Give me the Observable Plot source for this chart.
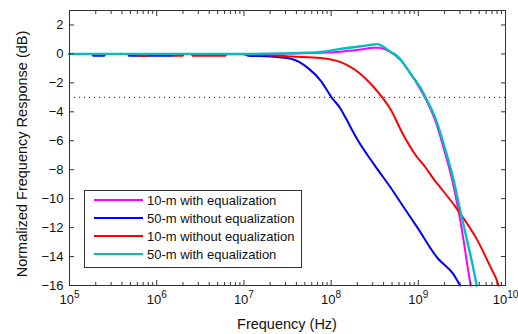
<!DOCTYPE html>
<html><head><meta charset="utf-8">
<script src="https://cdn.jsdelivr.net/npm/d3@7"></script>
<script src="https://cdn.jsdelivr.net/npm/@observablehq/plot@0.6"></script>
<style>
body{margin:0;background:#fff;}
#chart{position:relative;width:518px;height:334px;}
</style>
</head><body><div id="chart"></div>
<script>
// ---- data (frequency as log10 exponent, response in dB) ----
const seriesNames = ["10-m with equalization","50-m without equalization","10-m without equalization","50-m with equalization"];
const seriesColors = ["#ff00ff","#0000ff","#ff0000","#00bfbf"];

const magentaLogF = [5.0,7.0,7.5,7.88,8.11,8.34,8.49,8.55,8.65,8.8,8.91,9.02,9.10,9.2,9.29,9.39,9.46,9.52,9.56,9.6];
const magentaDb   = [0,0,0.03,0.08,0.15,0.3,0.42,0.42,0.23,-0.45,-1.35,-2.4,-3.3,-4.7,-6.5,-8.75,-10.8,-12.9,-14.5,-16];

const blueLogF = [5.0,5.26,5.27,5.40,5.41,5.67,5.68,6.19,6.2,7.0,7.05,7.3,7.55,7.74,7.88,8.005,8.11,8.165,8.31,8.5,8.69,8.80,8.99,9.22,9.40,9.47,9.48];
const blueDb   = [0,0,-0.12,-0.12,0,0,-0.12,-0.12,0,0,-0.12,-0.18,-0.35,-1.0,-1.84,-3.0,-3.8,-4.4,-6.0,-7.7,-9.3,-10.3,-12.0,-14.1,-15.2,-15.9,-16];

const redLogF = [5.0,5.78,5.79,5.9,5.91,6.18,6.19,6.30,6.31,6.40,6.41,6.79,6.8,7.2,7.55,7.88,8.11,8.34,8.49,8.6,8.68,8.82,8.97,9.09,9.17,9.25,9.43,9.68,9.83,9.91,9.92];
const redDb   = [0,0,-0.12,-0.12,0,0,-0.12,-0.12,0,0,-0.12,-0.12,0,-0.05,-0.18,-0.28,-0.57,-1.4,-2.3,-3.1,-3.8,-5.5,-7.0,-7.9,-8.6,-9.2,-10.6,-12.9,-14.75,-15.8,-16];

const cyanLogF = [5.0,7.0,7.5,7.88,8.11,8.34,8.49,8.53,8.6,8.68,8.76,8.91,9.02,9.10,9.2,9.3,9.4,9.48,9.56,9.62,9.67];
const cyanDb   = [0,0,0.04,0.14,0.35,0.53,0.65,0.68,0.5,0.15,-0.15,-1.35,-2.3,-3.2,-4.5,-6.4,-8.6,-10.8,-12.9,-14.5,-16];

const thresholdDb = -3;
const thresholdSpan = [1.14e5, 1e10];

const xMajorExp = [5,6,7,8,9,10];
const yTicks = [-16,-14,-12,-10,-8,-6,-4,-2,0,2];
const xLabel = "Frequency (Hz)";
const yLabel = "Normalized Frequency Response (dB)";

// ---- build tables ----
const logFs = [magentaLogF, blueLogF, redLogF, cyanLogF];
const dbs = [magentaDb, blueDb, redDb, cyanDb];
const widths = [2, 2, 2, 2.4];
const rows = seriesNames.map((name, k) => logFs[k].map((e, i) => ({name, f: Math.pow(10, e), db: dbs[k][i]})));
const majorX = xMajorExp.map(e => Math.pow(10, e));
const minorX = xMajorExp.slice(0, -1).flatMap(e => [2,3,4,5,6,7,8,9].map(m => m * Math.pow(10, e)));

const W = 518, H = 334;
const axisColor = "#333";
const font = "'Liberation Sans', Arial, Helvetica, sans-serif";

const plot = Plot.plot({
  width: W, height: H,
  marginLeft: 69, marginRight: 13, marginTop: 10, marginBottom: 49,
  style: {fontFamily: font, background: "#fff", color: "#111", overflow: "visible"},
  x: {type: "log", domain: [1e5, 1e10], label: null},
  y: {domain: [-16, 3], label: null},
  marks: [
    Plot.ruleY([thresholdDb], {x1: thresholdSpan[0], x2: thresholdSpan[1], stroke: "#222", strokeWidth: 1, strokeDasharray: "1.2,3.8"}),
    ...rows.map((r, k) => Plot.line(r, {x: "f", y: "db", stroke: seriesColors[k], strokeWidth: widths[k], strokeLinejoin: "round", curve: "monotone-x"})),
    Plot.axisX({ticks: majorX, tickSize: -5, tickPadding: 13.8, fontSize: 13, stroke: axisColor, label: null,
      tickFormat: d => "10^" + Math.round(Math.log10(d))}),
    Plot.axisX({ticks: minorX, tickSize: -3, stroke: axisColor, label: null, tickFormat: () => ""}),
    Plot.axisX({anchor: "top", ticks: majorX, tickSize: -5, stroke: axisColor, label: null, tickFormat: () => ""}),
    Plot.axisX({anchor: "top", ticks: minorX, tickSize: -3, stroke: axisColor, label: null, tickFormat: () => ""}),
    Plot.axisY({ticks: yTicks, tickSize: -5, tickPadding: 11, fontSize: 13, stroke: axisColor, label: null}),
    Plot.axisY({anchor: "right", ticks: yTicks, tickSize: -5, stroke: axisColor, label: null, tickFormat: () => ""}),
    Plot.frame({stroke: axisColor, strokeWidth: 1})
  ]
});

document.getElementById("chart").appendChild(plot);

const svg = d3.select(plot);
// superscript exponents on x tick labels
svg.selectAll("text").each(function() {
  const t = this.textContent;
  const m = /^10\^(\d+)$/.exec(t);
  if (m) {
    const sel = d3.select(this);
    sel.text("");
    sel.append("tspan").text("10");
    sel.append("tspan").attr("dy", "-0.6em").attr("font-size", "10px").text(m[1]);
  }
});

// axis titles
svg.append("text")
  .attr("x", 287).attr("y", 329)
  .attr("text-anchor", "middle")
  .attr("font-family", font).attr("font-size", 14.5).attr("fill", "#111")
  .text(xLabel);
svg.append("text")
  .attr("transform", "translate(27,154) rotate(-90)")
  .attr("text-anchor", "middle")
  .attr("font-family", font).attr("font-size", 14.5).attr("fill", "#111")
  .text(yLabel);

// legend
const lg = svg.append("g").attr("font-family", font).attr("font-size", 13).attr("text-anchor", "start");
lg.append("rect").attr("x", 84.5).attr("y", 190.5).attr("width", 217).attr("height", 77)
  .attr("fill", "#fff").attr("stroke", axisColor).attr("stroke-width", 1);
seriesNames.forEach((name, k) => {
  const y = 200 + k * 18;
  lg.append("line").attr("x1", 94).attr("x2", 143).attr("y1", y).attr("y2", y)
    .attr("stroke", seriesColors[k]).attr("stroke-width", 2);
  lg.append("text").attr("x", 147).attr("y", y + 4.6).attr("fill", "#111")
    .attr("text-anchor", "start").text(name);
});
</script>
</body></html>
